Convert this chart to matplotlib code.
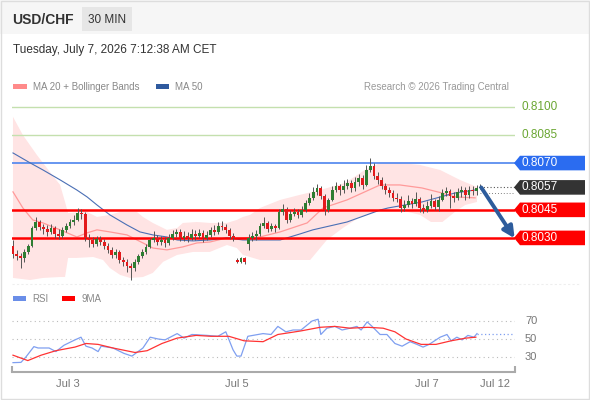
import matplotlib
matplotlib.use('Agg')
import matplotlib.pyplot as plt
import matplotlib.transforms as mtransforms
from matplotlib.patches import Rectangle, Polygon
from matplotlib.lines import Line2D
import numpy as np

plt.rcParams['font.family'] = ['Liberation Sans', 'DejaVu Sans']

# 30 min candles, index based x axis
opens = [0.80257, 0.80214, 0.80204, 0.80193, 0.80225, 0.80257, 0.80353, 0.80385, 0.80359, 0.80348,
         0.80332, 0.80353, 0.80321, 0.80310, 0.80343, 0.80364, 0.80385, 0.80396, 0.80433, 0.80428,
         0.80300, 0.80289, 0.80268, 0.80294, 0.80278, 0.80257, 0.80236, 0.80209, 0.80225, 0.80182,
         0.80172, 0.80150, 0.80139, 0.80172, 0.80204, 0.80225, 0.80252, 0.80289, 0.80300, 0.80278,
         0.80289, 0.80273, 0.80300, 0.80321, 0.80332, 0.80300, 0.80310, 0.80300, 0.80321, 0.80310,
         0.80327, 0.80300, 0.80316, 0.80343, 0.80332, 0.80364, 0.80359, 0.80343, 0.80310, 0.80182,
         0.80172, 0.80193, 0.80268, 0.80300, 0.80310, 0.80321, 0.80364, 0.80380, 0.80348, 0.80364,
         0.80353, 0.80439, 0.80455, 0.80396, 0.80428, 0.80439, 0.80423, 0.80449, 0.80487, 0.80514,
         0.80546, 0.80567, 0.80524, 0.80449, 0.80503, 0.80556, 0.80578, 0.80556, 0.80578, 0.80594,
         0.80567, 0.80599, 0.80621, 0.80583, 0.80663, 0.80685, 0.80631, 0.80610, 0.80578, 0.80556,
         0.80540, 0.80514, 0.80508, 0.80460, 0.80476, 0.80498, 0.80482, 0.80508, 0.80460, 0.80449,
         0.80471, 0.80498, 0.80466, 0.80503, 0.80540, 0.80551, 0.80524, 0.80514, 0.80546, 0.80556,
         0.80530, 0.80556, 0.80551, 0.80567]
closes = [0.80214, 0.80204, 0.80193, 0.80225, 0.80257, 0.80353, 0.80385, 0.80359, 0.80348, 0.80332,
          0.80353, 0.80321, 0.80310, 0.80343, 0.80364, 0.80385, 0.80396, 0.80433, 0.80428, 0.80300,
          0.80289, 0.80268, 0.80294, 0.80278, 0.80257, 0.80236, 0.80209, 0.80225, 0.80182, 0.80172,
          0.80150, 0.80139, 0.80172, 0.80204, 0.80225, 0.80252, 0.80289, 0.80300, 0.80278, 0.80289,
          0.80273, 0.80300, 0.80321, 0.80332, 0.80300, 0.80310, 0.80300, 0.80321, 0.80310, 0.80327,
          0.80300, 0.80316, 0.80343, 0.80332, 0.80364, 0.80359, 0.80343, 0.80310, 0.80300, 0.80172,
          0.80193, 0.80172, 0.80300, 0.80310, 0.80321, 0.80364, 0.80380, 0.80348, 0.80364, 0.80353,
          0.80439, 0.80455, 0.80396, 0.80428, 0.80439, 0.80423, 0.80449, 0.80487, 0.80514, 0.80546,
          0.80567, 0.80524, 0.80449, 0.80503, 0.80556, 0.80578, 0.80556, 0.80578, 0.80594, 0.80567,
          0.80599, 0.80621, 0.80583, 0.80663, 0.80685, 0.80631, 0.80610, 0.80578, 0.80556, 0.80540,
          0.80514, 0.80508, 0.80460, 0.80476, 0.80498, 0.80482, 0.80508, 0.80460, 0.80449, 0.80471,
          0.80498, 0.80466, 0.80503, 0.80540, 0.80551, 0.80524, 0.80514, 0.80546, 0.80556, 0.80530,
          0.80556, 0.80551, 0.80567, 0.80572]
highs = [0.80289, 0.80236, 0.80220, 0.80240, 0.80270, 0.80365, 0.80410, 0.80395, 0.80375, 0.80370,
         0.80375, 0.80365, 0.80345, 0.80360, 0.80380, 0.80400, 0.80420, 0.80460, 0.80455, 0.80440,
         0.80320, 0.80305, 0.80310, 0.80310, 0.80295, 0.80275, 0.80250, 0.80240, 0.80235, 0.80200,
         0.80185, 0.80165, 0.80185, 0.80215, 0.80240, 0.80265, 0.80300, 0.80335, 0.80315, 0.80310,
         0.80305, 0.80320, 0.80340, 0.80350, 0.80345, 0.80335, 0.80330, 0.80345, 0.80340, 0.80350,
         0.80340, 0.80335, 0.80360, 0.80370, 0.80385, 0.80390, 0.80375, 0.80355, 0.80325, 0.80190,
         0.80200, 0.80200, 0.80321, 0.80330, 0.80340, 0.80380, 0.80410, 0.80390, 0.80380, 0.80375,
         0.80455, 0.80480, 0.80465, 0.80450, 0.80460, 0.80455, 0.80470, 0.80500, 0.80540, 0.80570,
         0.80590, 0.80580, 0.80535, 0.80515, 0.80580, 0.80600, 0.80590, 0.80610, 0.80615, 0.80610,
         0.80625, 0.80640, 0.80635, 0.80690, 0.80727, 0.80700, 0.80650, 0.80625, 0.80595, 0.80570,
         0.80555, 0.80540, 0.80525, 0.80500, 0.80530, 0.80515, 0.80545, 0.80520, 0.80480, 0.80495,
         0.80535, 0.80510, 0.80525, 0.80560, 0.80570, 0.80560, 0.80545, 0.80565, 0.80575, 0.80570,
         0.80575, 0.80580, 0.80585, 0.80590]
lows = [0.80193, 0.80182, 0.80139, 0.80172, 0.80215, 0.80250, 0.80340, 0.80340, 0.80320, 0.80310,
        0.80320, 0.80300, 0.80295, 0.80300, 0.80330, 0.80355, 0.80370, 0.80390, 0.80400, 0.80285,
        0.80250, 0.80250, 0.80255, 0.80260, 0.80240, 0.80220, 0.80190, 0.80195, 0.80165, 0.80150,
        0.80120, 0.80075, 0.80125, 0.80160, 0.80190, 0.80215, 0.80245, 0.80280, 0.80260, 0.80260,
        0.80250, 0.80260, 0.80290, 0.80305, 0.80285, 0.80285, 0.80280, 0.80290, 0.80290, 0.80300,
        0.80280, 0.80290, 0.80305, 0.80315, 0.80320, 0.80340, 0.80325, 0.80295, 0.80285, 0.80165,
        0.80165, 0.80160, 0.80236, 0.80285, 0.80290, 0.80310, 0.80355, 0.80330, 0.80335, 0.80330,
        0.80345, 0.80425, 0.80380, 0.80385, 0.80415, 0.80405, 0.80410, 0.80440, 0.80475, 0.80500,
        0.80530, 0.80510, 0.80423, 0.80440, 0.80495, 0.80545, 0.80530, 0.80540, 0.80560, 0.80545,
        0.80550, 0.80580, 0.80560, 0.80575, 0.80650, 0.80615, 0.80590, 0.80560, 0.80535, 0.80520,
        0.80495, 0.80490, 0.80440, 0.80445, 0.80465, 0.80460, 0.80470, 0.80440, 0.80435, 0.80440,
        0.80460, 0.80450, 0.80445, 0.80495, 0.80525, 0.80460, 0.80490, 0.80500, 0.80520, 0.80500,
        0.80515, 0.80530, 0.80530, 0.80560]

# bollinger bands / moving averages (sampled along candle index)
bb_up_idx = [0, 2.6, 6.3, 9.7, 12.4, 13.7, 14.5, 19.5, 22.1, 25.5, 28.2, 32.6, 34.2, 36.8, 40.5, 43.2,
             44.7, 48.4, 51.8, 56.3, 58.9, 60.5, 62.4, 65, 70.3, 75.5, 80.8, 87.4, 92.6, 96.6, 101.8,
             107.1, 112.4, 117.6, 122.1]
bb_up = [0.80947, 0.80850, 0.80743, 0.80653, 0.80583, 0.80492, 0.80433, 0.80439, 0.80412, 0.80423,
         0.80439, 0.80439, 0.80412, 0.80380, 0.80343, 0.80353, 0.80380, 0.80385, 0.80380, 0.80380,
         0.80396, 0.80412, 0.80423, 0.80460, 0.80503, 0.80530, 0.80556, 0.80594, 0.80663, 0.80701,
         0.80701, 0.80690, 0.80663, 0.80610, 0.80572]
bb_lo_idx = [0, 4.5, 7.9, 12.4, 13.7, 14.5, 16.8, 21.1, 23.7, 25.5, 28.2, 30.8, 34.2, 36.8, 39.5, 43.2,
             47.4, 51.8, 56.3, 58.9, 60.5, 65, 70.3, 75.5, 78.2, 82.6, 86.8, 91.3, 96.6, 101.8, 107.1,
             110, 113, 116.3, 119, 122.1]
bb_lo = [0.80086, 0.80075, 0.80086, 0.80091, 0.80091, 0.80193, 0.80193, 0.80198, 0.80182, 0.80139,
         0.80102, 0.80086, 0.80091, 0.80113, 0.80172, 0.80209, 0.80225, 0.80225, 0.80262, 0.80246,
         0.80209, 0.80182, 0.80182, 0.80182, 0.80182, 0.80289, 0.80353, 0.80412, 0.80449, 0.80449,
         0.80423, 0.80385, 0.80385, 0.80439, 0.80476, 0.80492]
ma20_idx = [0, 2.6, 5.2, 7.9, 12.4, 16.8, 19.5, 22.1, 25.5, 30, 34.2, 36.8, 40.5, 44.7, 48.4, 51.8,
            56.3, 60.5, 65, 70.3, 77.4, 81.6, 87.9, 96.6, 101.8, 107.6, 112.9, 116.3, 121.6]
ma20 = [0.80546, 0.80460, 0.80396, 0.80380, 0.80343, 0.80305, 0.80327, 0.80343, 0.80332, 0.80316,
        0.80273, 0.80246, 0.80236, 0.80252, 0.80273, 0.80278, 0.80300, 0.80300, 0.80305, 0.80332,
        0.80380, 0.80460, 0.80503, 0.80583, 0.80583, 0.80567, 0.80540, 0.80519, 0.80514]
ma50_idx = [0, 4.5, 7.9, 12.4, 16.8, 19.5, 22.1, 25.5, 30, 33.4, 36.8, 40.5, 43.2, 47.4, 51.8, 56.3,
            60.5, 65, 70.3, 75.5, 78.9, 87.9, 96.6, 98.7, 107.6, 116.3, 121.6]
ma50 = [0.80754, 0.80701, 0.80663, 0.80610, 0.80556, 0.80519, 0.80476, 0.80423, 0.80369, 0.80332,
        0.80316, 0.80305, 0.80289, 0.80284, 0.80289, 0.80300, 0.80289, 0.80289, 0.80289, 0.80321,
        0.80343, 0.80385, 0.80449, 0.80460, 0.80492, 0.80540, 0.80556]

# RSI panel
rsi_idx = [0, 2.1, 3.4, 5.5, 6.6, 9.5, 11.3, 13.4, 16.3, 17.9, 19.2, 20.8, 22.4, 23.2, 26.3, 29.2,
           31.3, 34.2, 36.1, 38.2, 40, 43.2, 45, 47.1, 51.1, 53.9, 56, 57.9, 58.9, 60, 61.8, 65.8,
           67.9, 69.7, 71.8, 73.7, 75.8, 78.7, 80.3, 81, 82.6, 84.7, 86.6, 88.7, 90.5, 91.6, 93.2,
           94.5, 96.6, 98.4, 100.5, 102.4, 104.5, 106.3, 107.9, 109.5, 112.4, 114.2, 115.3, 116.8,
           118.2, 119.7, 121.3, 122.1]
rsi = [23.7, 24, 30, 41.5, 40, 40, 36, 43, 49, 52, 42, 40, 36, 42, 40, 34,
       31, 40, 52, 50, 49, 56, 51, 55, 54, 53, 58, 38, 31, 31, 53, 56,
       55, 64, 58, 60, 60, 70, 72, 55, 62, 64, 60, 62, 64, 60, 69,
       64, 55, 55, 45, 42, 47, 44, 41, 44, 52, 55, 48, 52,
       49, 54, 52, 56]
ma9_idx = [0, 3.9, 7.4, 11.3, 16.3, 19.2, 22.4, 26.3, 32.1, 35.3, 39.2, 43.2, 48.2, 52.1, 56.8, 60.8,
           65.8, 69.7, 75.8, 80.8, 84.7, 88.7, 93.4, 97.4, 100.5, 103.4, 107.4, 111.3, 115.3, 119.2,
           121.8]
ma9 = [32, 26, 32, 37, 41, 45, 44, 40, 35, 37, 45, 51, 54, 53, 53, 48,
       47, 55, 59, 63, 64, 62, 63, 62, 58, 50, 44, 44, 48, 51, 52]

levels_green = [0.8100, 0.8085]
level_blue = 0.8070
levels_red = [0.8045, 0.8030]
last_price = 0.8057
tick_pos = [14.5, 58.9, 108.9, 126.8]
tick_labels = ['Jul 3', 'Jul 5', 'Jul 7', 'Jul 12']

W, H = 590, 400
fig = plt.figure(figsize=(W / 100, H / 100), dpi=100)
fig.patch.set_facecolor('white')


def fx(px):
    return px / W


def fy(py):
    return 1 - py / H


# header
fig.patches.append(Rectangle((0, fy(34)), 1, 34 / H, transform=fig.transFigure,
                             facecolor='#f6f6f6', edgecolor='none', zorder=0))
fig.patches.append(Rectangle((fx(82), fy(31)), 50 / W, 24 / H, transform=fig.transFigure,
                             facecolor='#e6e6e6', edgecolor='none', zorder=1))
fig.patches.append(Rectangle((0.001, 0.002), 0.997, 0.996, transform=fig.transFigure,
                             facecolor='none', edgecolor='#dddddd', lw=1, zorder=0))
fig.text(fx(12), fy(20.5), 'USD/CHF', fontsize=10, fontweight='bold', color='#333333', va='center')
fig.text(fx(107), fy(20), '30 MIN', fontsize=8.5, color='#333333', va='center', ha='center')
fig.text(fx(13), fy(49.5), 'Tuesday, July 7, 2026 7:12:38 AM CET', fontsize=8.5, color='#333333',
         va='center')

# legends
fig.patches.append(Rectangle((fx(13), fy(89)), 14 / W, 5 / H, transform=fig.transFigure,
                             facecolor='#ff8a8a', edgecolor='none'))
fig.text(fx(33), fy(87), 'MA 20 + Bollinger Bands', fontsize=7, color='#888888', va='center')
fig.patches.append(Rectangle((fx(156), fy(89)), 13 / W, 5 / H, transform=fig.transFigure,
                             facecolor='#2f5a9e', edgecolor='none'))
fig.text(fx(175), fy(87), 'MA 50', fontsize=7, color='#888888', va='center')
fig.text(fx(509), fy(87), 'Research \u00a9 2026 Trading Central', fontsize=7, color='#999999',
         va='center', ha='right')

fig.patches.append(Rectangle((fx(13), fy(301)), 13 / W, 5 / H, transform=fig.transFigure,
                             facecolor='#6a8ee8', edgecolor='none'))
fig.text(fx(32), fy(299), 'RSI', fontsize=7, color='#888888', va='center')
fig.patches.append(Rectangle((fx(62), fy(301)), 13 / W, 5 / H, transform=fig.transFigure,
                             facecolor='#ff0000', edgecolor='none'))
fig.text(fx(82), fy(299), '9MA', fontsize=7, color='#888888', va='center')

# price panel
ax = fig.add_axes([fx(12), fy(283), 503 / W, 183 / H])
ax.set_xlim(-0.26, 132.1)
ax.set_ylim(0.80059, 0.81037)
ax.axis('off')

ax.fill(np.r_[bb_up_idx, bb_lo_idx[::-1]], np.r_[bb_up, bb_lo[::-1]],
        color='#ffe4e4', lw=0, zorder=1)
ax.plot(ma20_idx, ma20, color='#ff9a9a', lw=0.9, zorder=2)
ax.plot(ma50_idx, ma50, color='#4a6fb5', lw=0.8, zorder=2)

for lv in levels_green:
    ax.axhline(lv, color='#c4e0ae', lw=1, zorder=1.5)
ax.axhline(level_blue, color='#5b8def', lw=1.3, zorder=1.5)
for lv in levels_red:
    ax.axhline(lv, color='#ff0000', lw=1.8, zorder=3)

o = np.array(opens)
c = np.array(closes)
idx = np.arange(len(c))
up = c >= o
ax.vlines(idx, lows, highs, color='#555555', lw=0.7, zorder=4)
ax.bar(idx[up], (c - o)[up], bottom=o[up], width=0.78, color='#2e7d32', zorder=5)
ax.bar(idx[~up], (c - o)[~up], bottom=o[~up], width=0.78, color='#e31a1c', zorder=5)

ax.plot([idx[-1], 132.1], [last_price, last_price], color='#555555', lw=0.8, ls=(0, (1, 2)),
        clip_on=False, zorder=3)
ax.plot([idx[-1], 132.1], [ma50[-1] - 0.00015, ma50[-1] - 0.00015], color='#555555', lw=0.6,
        ls=(0, (1, 2.5)), clip_on=False, zorder=3)

ax.annotate('', xy=(132.0, 0.80298), xytext=(123.2, 0.80570),
            arrowprops=dict(arrowstyle='-|>', color='#2d5c9c', lw=2.8, mutation_scale=17,
                            shrinkA=0, shrinkB=0),
            annotation_clip=False, zorder=6)

# right labels
trans = mtransforms.blended_transform_factory(fig.transFigure, ax.transData)
for lv in levels_green:
    ax.text(fx(522), lv, '%.4f' % lv, transform=trans, fontsize=8.5, color='#6aa632', va='center')

hh = 0.00039


def tag(lv, col):
    pts = [(fx(514), lv), (fx(520), lv + hh), (fx(585), lv + hh), (fx(585), lv - hh),
           (fx(520), lv - hh)]
    ax.add_patch(Polygon(pts, closed=True, transform=trans, facecolor=col, edgecolor='none',
                         clip_on=False, zorder=7))
    ax.text(fx(522), lv, '%.4f' % lv, transform=trans, fontsize=8.5, color='white', va='center',
            zorder=8, clip_on=False)


tag(level_blue, '#2b6cf0')
tag(last_price, '#333333')
for lv in levels_red:
    tag(lv, '#ff0000')

# faint separator under price panel
fig.add_artist(Line2D([fx(12), fx(580)], [fy(284), fy(284)], color='#eeeeee', lw=0.8,
                      ls=(0, (2, 2))))

# RSI panel
ax2 = fig.add_axes([fx(12), fy(372), 503 / W, 67 / H])
ax2.set_xlim(-0.26, 132.1)
ax2.set_ylim(13.3, 87.8)
for s in ['top', 'right', 'left']:
    ax2.spines[s].set_visible(False)
ax2.spines['bottom'].set_color('#aaaaaa')
ax2.spines['bottom'].set_linewidth(1.5)
ax2.set_yticks([])
ax2.set_xticks(tick_pos)
ax2.set_xticklabels(tick_labels, fontsize=8, color='#777777')
ax2.tick_params(axis='x', length=0, pad=5)
ax2.set_xticks([-0.26, 132.1], minor=True)
ax2.tick_params(axis='x', which='minor', direction='in', length=4, width=1.5, color='#aaaaaa')
ax2.set_facecolor('none')

trans2 = mtransforms.blended_transform_factory(fig.transFigure, ax2.transData)
for g in [30, 50, 70]:
    ax2.axhline(g, color='#bbbbbb', lw=0.8, ls=(0, (1, 3)))
    ax2.text(fx(525), g, str(g), transform=trans2, fontsize=8, color='#777777', va='center')

ax2.plot(rsi_idx, rsi, color='#7f9ff0', lw=0.9)
ax2.plot(ma9_idx, ma9, color='#ff3333', lw=0.9)
ax2.plot([rsi_idx[-1], 132.1], [rsi[-1], rsi[-1]], color='#7f9ff0', lw=0.9, ls=(0, (1, 2)))

fig.savefig('out.png', dpi=100, facecolor='white')
